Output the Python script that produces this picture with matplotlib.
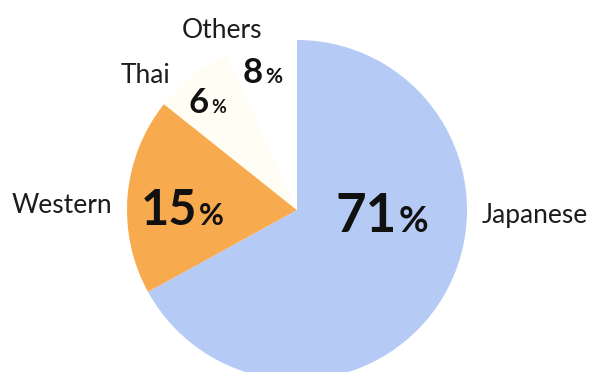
"""Pie chart of cuisine preferences, redrawn from a scanned figure"""
import matplotlib.pyplot as plt

categories = ["Japanese", "Western", "Thai", "Others"]
percent = [71, 15, 6, 8]                 # numbers printed on the chart
drawn_share = [67.0, 18.7, 7.5, 6.8]     # wedge sizes as they are drawn
colors = ["#b5caf5", "#f7aa4e", "#fffdf4", "#ffffff"]

# layout, in pixels from the bottom left corner
label_pos = [(482, 149), (12, 159), (121, 289), (182, 334)]
num_pos = [(366, 140), (169, 147), (199, 259), (253, 289)]
num_size = [38, 35, 25, 25]
pct_pos = [(399, 140), (199, 147), (211, 259), (265, 289)]
pct_size = [26, 22, 13, 15]

plt.rcParams["font.family"] = ["Lato", "DejaVu Sans"]

fig = plt.figure(figsize=(5.92, 3.72), dpi=100)
ax = fig.add_axes([0, 0, 1, 1])
ax.pie(drawn_share, colors=colors, startangle=90, counterclock=False,
       center=(297, 162), radius=170, wedgeprops=dict(linewidth=0))
ax.set_xlim(0, 592)
ax.set_ylim(0, 372)
ax.set_aspect("equal")
ax.axis("off")

for i in range(len(categories)):
    ax.text(*label_pos[i], categories[i], fontsize=19, color="#1c1c1c",
            ha="left", va="baseline")
    ax.text(*num_pos[i], str(percent[i]), fontsize=num_size[i],
            fontweight="bold", color="#111111", ha="center", va="baseline")
    ax.text(*pct_pos[i], "%", fontsize=pct_size[i], fontweight="bold",
            color="#111111", ha="left", va="baseline")

fig.savefig("out.png", dpi=100)
